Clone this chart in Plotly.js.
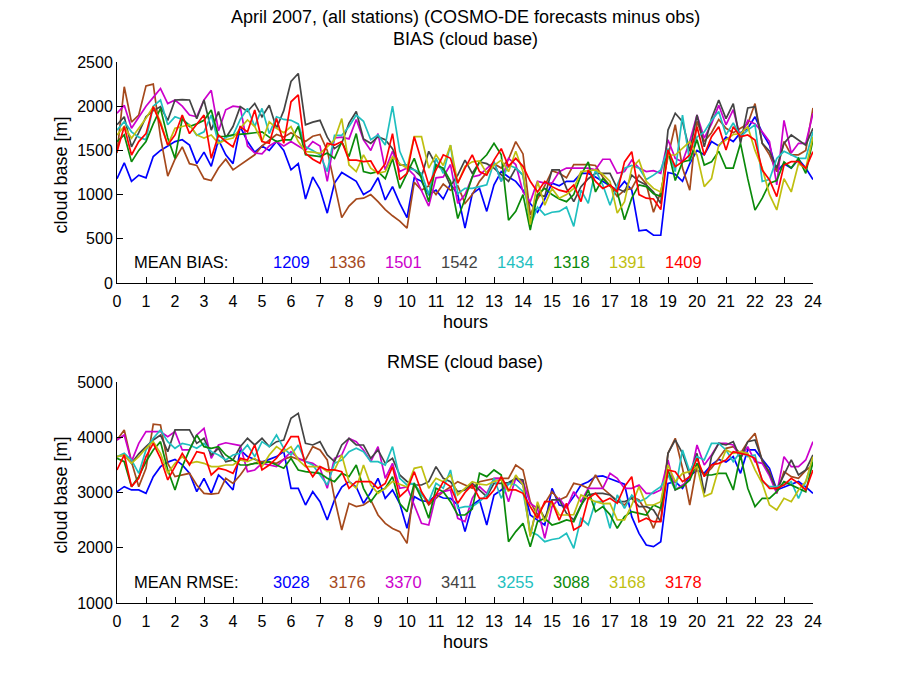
<!DOCTYPE html>
<html>
<head>
<meta charset="utf-8">
<script src="https://cdn.plot.ly/plotly-3.0.1.min.js"></script>
<style>html,body{margin:0;padding:0;background:#fff;}#chart{width:900px;height:675px;}</style>
</head>
<body>
<div id="chart"></div>
<script>
// forecast lead time (hours), quarter-hour steps
const hours = [0,0.25,0.5,0.75,1,1.25,1.5,1.75,2,2.25,2.5,2.75,3,3.25,3.5,3.75,4,4.25,4.5,4.75,5,5.25,5.5,5.75,6,6.25,6.5,6.75,7,7.25,7.5,7.75,8,8.25,8.5,8.75,9,9.25,9.5,9.75,10,10.25,10.5,10.75,11,11.25,11.5,11.75,12,12.25,12.5,12.75,13,13.25,13.5,13.75,14,14.25,14.5,14.75,15,15.25,15.5,15.75,16,16.25,16.5,16.75,17,17.25,17.5,17.75,18,18.25,18.5,18.75,19,19.25,19.5,19.75,20,20.25,20.5,20.75,21,21.25,21.5,21.75,22,22.25,22.5,22.75,23,23.25,23.5,23.75,24];

const seriesColors = ['#0000FF','#A5491C','#CC00CC','#444444','#1FBFBF','#0A8A0A','#BFBF10','#FF0000'];
const meanBias = ['1209','1336','1501','1542','1434','1318','1391','1409'];
const meanRmse = ['3028','3176','3370','3411','3255','3088','3168','3178'];

// BIAS (cloud base) [m]
const biasBlue = [1180,1360,1150,1220, 1190,1430,1500,1550, 1600,1620,1560,1350, 1480,1320,1620,1450, 1350,1770,1600,1480, 1550,1500,1600,1500, 1280,1350,950,1200, 1060,790,1130,1250, 1200,1150,1000,1050, 1190,940,1090,900, 740,1190,1150,1000, 1050,950,1120,1000, 620,1010,1070,810, 1110,1260,1200,1150, 1050,900,800,950, 1130,1100,1150,1150, 1240,1240,1200,1150, 1100,1050,1150,1050, 590,600,540,540, 1250,1230,1150,1350, 1500,1450,1600,1550, 1650,1600,1700,1750, 1880,1700,1560,1260, 1350,1300,1400,1300, 1170];
const biasBrown = [1470,2220,1820,1900, 2230,2250,1650,1210, 1400,1540,1350,1330, 1180,1160,1300,1400, 1280,1340,1400,1450, 1550,1620,1680,1650, 1700,1650,1600,1660, 1680,1500,1130,740, 870,950,960,1000, 920,830,760,700, 620,1140,1050,1100, 1000,1120,1050,1100, 900,1000,1150,1250, 1350,1300,1400,1600, 1460,770,950,1100, 1270,1240,1190,1340, 1340,1340,1330,1200, 1100,980,1050,1070, 1220,1120,800,1030, 1430,1790,1300,1050, 1830,1600,1700,1850, 1750,1700,1750,1800, 2030,1580,1450,1260, 1600,1450,1450,1500, 1980];
const biasMagenta = [1920,2010,1750,1870, 2000,2100,2200,2030, 2070,2000,1900,1880, 2070,2180,1720,1960, 2000,1990,1550,1470, 1460,1550,1600,1550, 1600,1550,1500,1600, 1550,1150,1640,1650, 1630,1850,1620,1500, 1690,1280,1490,1260, 1300,1220,1050,870, 1190,1200,1340,900, 1000,1200,1220,1300, 1370,1150,1410,1340, 1030,920,1150,1130, 1130,1260,1300,1300, 1300,1300,1280,1400, 1400,1240,1260,1390, 1300,1260,1270,1240, 1620,1410,1370,1600, 1900,1640,1800,2010, 1790,1960,1640,1840, 1800,1710,1600,1110, 1840,1470,1580,1580, 1920];
const biasGray = [1790,1880,1540,1700, 1880,1950,1995,1840, 2070,2075,2070,1860, 2070,1730,1940,1640, 1770,1995,1940,2030, 1880,2010,1750,1950, 2280,2370,1790,1820, 1840,1650,1520,1580, 1810,1940,1630,1580, 1655,1620,1520,1335, 1335,1280,1200,1490, 1335,1280,1100,1220, 1390,1240,1370,1350, 1300,1220,1150,1300, 1220,700,1000,980, 1280,1280,1070,920, 1090,1180,1240,1240, 1240,1070,1030,1220, 1150,1110,1030,900, 1730,1920,1825,1490, 1900,1540,1860,2070, 1860,2030,1580,1980, 1995,1580,1490,1300, 1580,1675,1620,1560, 1750];
const biasCyan = [1730,1825,1710,1650, 1620,2000,2070,1790, 1880,1850,1790,1670, 1710,1900,1580,1650, 1670,1850,1975,1770, 1975,1690,1880,1850, 1840,1800,1540,1500, 1450,1260,1670,1670, 1770,1900,1830,1620, 1675,1560,2000,1490, 1300,1280,1240,1000, 1410,1240,1560,1010, 1070,1070,1090,1110, 1370,1150,1335,1300, 1220,640,860,770, 800,810,860,640, 1050,900,1280,1110, 880,1110,1300,1330, 1300,1170,1220,1280, 1520,1260,1900,1370, 1650,1710,1840,1940, 1675,1810,1655,1730, 1790,1150,1170,1410, 1490,1450,1410,1410, 1710];
const biasGreen = [1600,1675,1370,1500, 1600,1800,1975,1640, 1410,1860,1770,1800, 1840,1957,1655,1660, 1675,1680,1690,1700, 1710,1650,1600,1620, 1620,1770,1450,1440, 1430,1470,1410,1600, 1430,1690,1260,1240, 1260,1180,1410,1070, 1250,1410,1180,920, 1335,1300,1150,730, 950,1200,1370,1450, 1580,1450,710,810, 1000,600,1000,1070, 1000,950,920,1000, 1220,1370,1030,1180, 1100,1030,715,960, 1110,1090,1010,980, 1500,1160,1370,1390, 1620,1335,1370,1490, 1300,1300,1580,1180, 825,960,1130,1160, 1370,1300,1410,1240, 1620];
const biasYellow = [1675,1770,1637,1750, 1863,1995,1825,1560, 1750,1770,1790,1675, 1640,1675,1580,1620, 1640,1750,1844,1770, 1600,1825,1750,1700, 1770,1600,1486,1480, 1467,1540,1620,1860, 1335,1260,1450,1300, 1240,1260,1430,1350, 1300,1655,1655,1300, 1450,1330,1560,1128, 1320,1370,1380,1240, 1330,1390,1260,1490, 1260,660,1150,880, 1070,960,1000,1070, 1260,1270,1280,1230, 1150,790,920,1300, 1390,1150,1070,1030, 1448,1448,1520,1600, 1448,1090,1180,1560, 1620,1680,1690,1770, 1500,1300,1000,826, 1180,1030,1350,1300, 1655];
const biasRed = [1486,1770,1448,1600, 1690,1995,1800,1560, 1675,1900,1690,1800, 1900,1410,1675,1600, 1540,1770,1710,1957, 1600,1580,1860,1580, 2050,2127,1467,1400, 1354,1580,1560,1600, 1390,1390,1373,1380, 1240,1350,1690,1170, 1240,1655,1370,1110, 1280,1450,1410,1130, 1300,1450,1260,1220, 1390,1520,1320,1410, 1320,1150,1030,1150, 1090,1050,1030,1110, 920,1280,1150,1070, 1110,1030,1370,1486, 1000,960,950,830, 1505,1316,1373,1448, 1768,1448,1655,1768, 1505,1768,1655,1674, 1618,1278,1165,977, 1335,1373,1373,1297, 1486];

// RMSE (cloud base) [m]
const rmseBlue = [3015,3106,3046,3046, 2985,3287,3468,3550, 3600,3500,3350,3015, 3257,2985,3317,3196, 3046,3770,3650,3600, 3550,3600,3650,3739, 3076,3076,2774,3015, 2834,2503,2865,3100, 3200,3100,2804,3000, 3257,2895,3046,2800, 2352,2925,2850,2834, 2955,2900,2895,2774, 2292,2774,2865,2412, 2955,3046,3150,3257, 3136,2593,2500,2412, 3076,2774,2744,2925, 3136,3196,3287,3300, 3250,3200,3150,2563, 2261,2050,2020,2110, 3166,3196,3076,3300, 3400,3350,3500,3600, 3550,3650,3347,3770, 3770,3600,3438,3046, 3100,3150,3200,3100, 2985];
const rmseBrown = [3951,4132,3558,3106, 3438,4235,4222,3528, 3287,3317,3347,3136, 2985,2970,2985,3257, 3166,3317,3498,3530, 3558,3550,3528,3600, 3649,3600,3589,3830, 3770,3589,2895,2322, 2804,2744,2774,2865, 2593,2442,2350,2292, 2080,3136,2985,2774, 2900,3015,3100,3196, 3136,3076,3196,3220, 3250,3257,3257,3498, 3408,2834,2593,2800, 3015,2865,2925,3166, 3136,3076,3317,3076, 2955,2850,2774,2925, 2865,2653,2352,2714, 3709,3981,3438,2774, 3498,3317,3438,3619, 3800,3830,3709,3920, 4071,3558,3377,2985, 3377,3287,3257,3400, 3498];
const rmseMagenta = [3951,4041,3558,3890, 4101,4101,4101,4011, 4101,3770,3770,4041, 4162,3619,3860,3900, 3880,3850,3377,3408, 3528,3498,3468,3600, 3739,3619,3558,3528, 3438,3076,3619,3679, 3981,3920,3770,3558, 3830,3257,3528,3076, 3100,2774,2442,2412, 2955,3015,3046,2533, 2472,2895,3106,2985, 3257,3257,2834,3257, 3196,2804,2714,2171, 2744,2895,2714,3015, 2834,3076,3076,3076, 3347,3257,3076,3076, 3136,2985,2985,3046, 3589,3046,3136,3227, 3860,3498,3679,3890, 3890,3860,3619,3830, 3558,3528,3300,2985, 3649,3468,3468,3589, 3920];
const rmseGray = [3649,3679,3528,3700, 3830,3951,4041,3739, 4132,4130,4132,3890, 3981,3679,3800,3558, 3589,3830,3981,3860, 3981,3830,3920,3950, 4343,4433,3890,3860, 3920,3679,3558,3860, 3981,3860,3860,3619, 3770,3528,3619,3317, 3200,3136,3136,3196, 3468,3257,3196,3015, 3046,3166,3046,2925, 3166,3166,3180,3257, 3227,2231,2774,2533, 2865,2865,2623,2503, 2774,2955,2985,2985, 2955,2834,2834,2895, 2744,2744,2684,2472, 3709,3951,3709,3317, 3709,2985,3649,3890, 3860,3920,3619,3920, 3951,3589,3347,3046, 3317,3589,3317,3408, 3679];
const rmseCyan = [3649,3709,3589,3347, 3770,3981,4132,3920, 3800,3890,3860,3800, 3890,3739,3679,3589, 3679,3709,3860,3649, 3920,3830,4041,3800, 3679,3860,3558,3498, 3317,3136,3528,3589, 3739,3800,3739,3558, 3558,3498,3830,3257, 3136,3166,2955,2834, 3166,3076,3408,2714, 2744,2744,2834,2955, 3257,2895,3166,3136, 3015,2292,2231,2110, 2150,2171,2262,1990, 2533,2412,2834,2834, 2352,2955,2714,2955, 2834,2895,3015,3106, 3317,3046,3770,3377, 3649,3589,3890,3890, 3770,3558,3739,3649, 3679,3196,3106,3106, 3136,3196,2895,3196, 3619];
const rmseGreen = [3619,3558,3106,3287, 3558,3770,3920,3408, 3046,3468,3770,4041, 3830,3800,3830,3679, 3589,3498,3498,3528, 3528,3558,3498,3438, 3619,3408,3377,3360, 3347,3257,3196,3347, 3287,3498,3076,2834, 3015,3076,3287,2800, 2653,3166,2895,2533, 3076,3015,2834,2593, 2593,2700,3347,3287, 3408,3317,2110,2292, 2442,2020,2472,2533, 2412,2450,2503,2472, 2774,3046,2653,2744, 2600,2352,2563,2653, 2623,2593,2774,2714, 3408,3046,3106,3227, 3528,3317,3317,3347, 3347,3046,3679,3076, 2744,2895,2895,3015, 3196,3136,3076,3015, 3558];
const rmseYellow = [3649,3679,3528,3650, 3800,3920,3709,3347, 3528,3649,3528,3558, 3528,3468,3468,3498, 3498,3589,3558,3619, 3468,3679,3830,3739, 3830,3589,3468,3468, 3468,3377,3408,3679, 3196,3076,3498,3136, 2985,3076,3200,3150, 3100,3438,3468,3076, 3257,3196,3317,2955, 3076,3196,3150,3136, 3200,3227,3015,3317, 3136,2201,2834,2472, 2834,2593,2593,2600, 2955,2900,2834,2800, 2804,2503,2503,2774, 3106,2774,2774,2834, 3498,3196,3347,3377, 3468,2925,2985,3438, 3770,3709,3739,3709, 3408,3166,2774,2684, 2895,2834,3046,3196, 3649];
const rmseRed = [3408,3679,3106,3257, 3649,3890,3619,3227, 3468,3709,3498,3739, 3709,3317,3438,3408, 3347,3619,3589,3860, 3408,3498,3619,3800, 4011,4011,3498,3287, 3468,3408,3408,3377, 3076,3196,3196,3196, 3076,3166,3468,2925, 3046,3377,3015,2804, 2955,3196,3106,2804, 3000,3136,2895,2895, 3046,3287,3046,3046, 2985,2744,2533,2834, 2834,2500,2804,2322, 2400,2895,2985,2834, 2895,2804,3106,3287, 2472,2533,2472,2472, 3408,3377,3196,3287, 3619,3287,3498,3528, 3589,3739,3709,3679, 3619,3227,3076,3076, 3136,3257,3166,3046, 3408];

const biasSeries = [biasBlue,biasBrown,biasMagenta,biasGray,biasCyan,biasGreen,biasYellow,biasRed];
const rmseSeries = [rmseBlue,rmseBrown,rmseMagenta,rmseGray,rmseCyan,rmseGreen,rmseYellow,rmseRed];

const FONT = '"Liberation Sans", Arial, Helvetica, sans-serif';
const traces = [];
biasSeries.forEach((ys, i) => traces.push({x: hours, y: ys, type: 'scatter', mode: 'lines', xaxis: 'x', yaxis: 'y', line: {color: seriesColors[i], width: 1.7}, showlegend: false, hoverinfo: 'skip'}));
rmseSeries.forEach((ys, i) => traces.push({x: hours, y: ys, type: 'scatter', mode: 'lines', xaxis: 'x2', yaxis: 'y2', line: {color: seriesColors[i], width: 1.7}, showlegend: false, hoverinfo: 'skip'}));

const hourTicks = [0,1,2,3,4,5,6,7,8,9,10,11,12,13,14,15,16,17,18,19,20,21,22,23,24];
function xAx(anchor) {
  return {anchor: anchor, domain: [0, 1], range: [0, 24], tickvals: hourTicks, ticktext: hourTicks.map(String),
    showline: true, linecolor: '#000', linewidth: 1, ticks: 'inside', ticklen: 6, tickcolor: '#000', tickwidth: 1,
    showgrid: false, zeroline: false, tickfont: {family: FONT, size: 16, color: '#000'}, ticklabelstandoff: 4};
}
function yAx(anchor, dom, rng, dt) {
  return {anchor: anchor, domain: dom, range: rng, dtick: dt, tick0: 0,
    showline: true, linecolor: '#000', linewidth: 1, ticks: 'inside', ticklen: 6, tickcolor: '#000', tickwidth: 1,
    showgrid: false, zeroline: false, tickfont: {family: FONT, size: 16, color: '#000'}};
}

const annFont = (sz, col) => ({family: FONT, size: sz, color: col || '#000'});
const annotations = [
  {text: 'April 2007, (all stations) (COSMO-DE forecasts minus obs)', xref: 'paper', yref: 'paper', x: 0.5, y: 1.0832, xanchor: 'center', yanchor: 'middle', showarrow: false, font: annFont(18)},
  {text: 'BIAS (cloud base)', xref: 'paper', yref: 'paper', x: 0.5, y: 1.0425, xanchor: 'center', yanchor: 'middle', showarrow: false, font: annFont(18)},
  {text: 'RMSE (cloud base)', xref: 'paper', yref: 'paper', x: 0.5, y: 0.4455, xanchor: 'center', yanchor: 'middle', showarrow: false, font: annFont(18)},
  {text: 'hours', xref: 'paper', yref: 'paper', x: 0.5, y: 0.5194, xanchor: 'center', yanchor: 'middle', showarrow: false, font: annFont(18)},
  {text: 'hours', xref: 'paper', yref: 'paper', x: 0.5, y: -0.0721, xanchor: 'center', yanchor: 'middle', showarrow: false, font: annFont(18)},
  {text: 'cloud base [m]', xref: 'paper', yref: 'paper', x: -0.0805, y: 0.792, xanchor: 'center', yanchor: 'middle', textangle: -90, showarrow: false, font: annFont(18)},
  {text: 'cloud base [m]', xref: 'paper', yref: 'paper', x: -0.0805, y: 0.2005, xanchor: 'center', yanchor: 'middle', textangle: -90, showarrow: false, font: annFont(18)},
  {text: 'MEAN BIAS:', xref: 'x', yref: 'y', x: 0.5, y: 243, xanchor: 'left', yanchor: 'middle', showarrow: false, font: annFont(16.5)},
  {text: 'MEAN RMSE:', xref: 'x2', yref: 'y2', x: 0.5, y: 1389, xanchor: 'left', yanchor: 'middle', showarrow: false, font: annFont(16.5)}
];
const meanPos = [5.31, 7.24, 9.17, 11.10, 13.03, 14.97, 16.90, 18.83];
meanBias.forEach((t, i) => annotations.push({text: t, xref: 'x', yref: 'y', x: meanPos[i], y: 243, xanchor: 'left', yanchor: 'middle', showarrow: false, font: annFont(16.5, seriesColors[i])}));
meanRmse.forEach((t, i) => annotations.push({text: t, xref: 'x2', yref: 'y2', x: meanPos[i], y: 1389, xanchor: 'left', yanchor: 'middle', showarrow: false, font: annFont(16.5, seriesColors[i])}));

const layout = {
  width: 900, height: 675,
  margin: {l: 117, r: 87, t: 62, b: 72},
  paper_bgcolor: '#fff', plot_bgcolor: '#fff',
  font: {family: FONT, color: '#000'},
  showlegend: false,
  xaxis: xAx('y'),
  yaxis: yAx('x', [0.5915, 1], [0, 2500], 500),
  xaxis2: xAx('y2'),
  yaxis2: yAx('x2', [0, 0.4085], [1000, 5000], 1000),
  annotations: annotations
};
Plotly.newPlot('chart', traces, layout, {staticPlot: true, displayModeBar: false});
</script>
</body>
</html>
